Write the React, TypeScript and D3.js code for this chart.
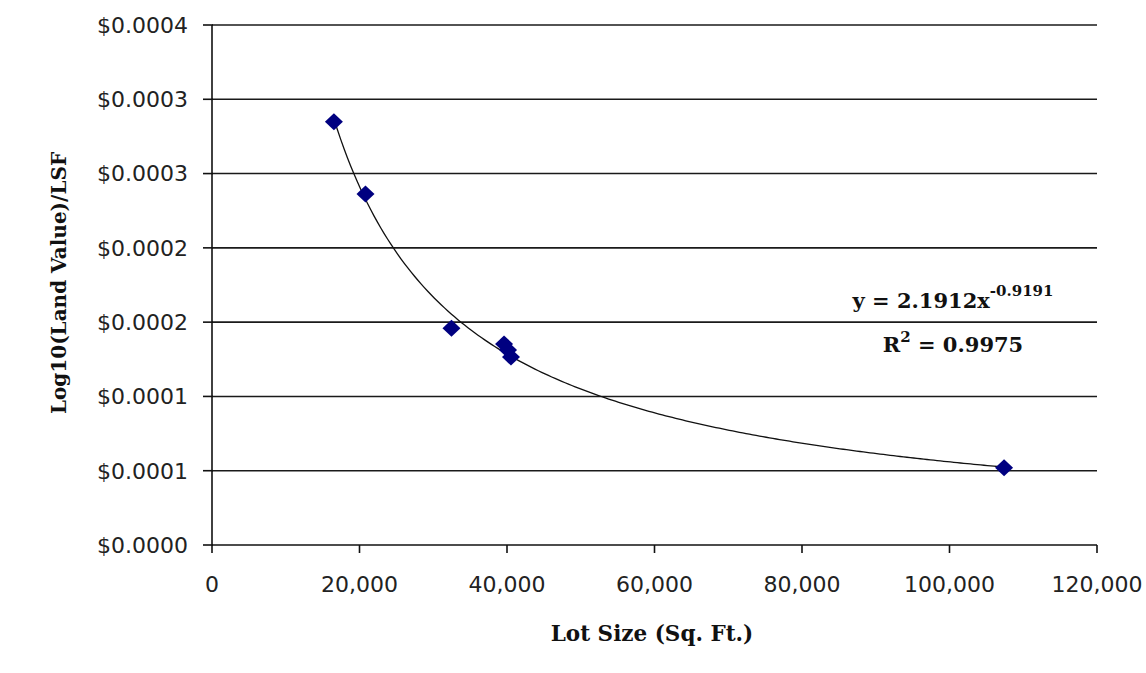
import React from "react";
import * as d3 from "d3";

const lotSizes = [16530, 20810, 32470, 39600, 40140, 40540, 107400];
const values = [0.0002849, 0.0002363, 0.0001459, 0.0001353, 0.0001313, 0.0001265, 0.000052];
const xTickValues = [0, 20000, 40000, 60000, 80000, 100000, 120000];
const yTickValues = [0, 0.00005, 0.0001, 0.00015, 0.0002, 0.00025, 0.0003, 0.00035];
const yTickLabels = ["$0.0000", "$0.0001", "$0.0001", "$0.0002", "$0.0002", "$0.0003", "$0.0003", "$0.0004"];
const xTitle = "Lot Size (Sq. Ft.)";
const yTitle = "Log10(Land Value)/LSF";
const eqCoef = "2.1912";
const eqExp = "-0.9191";
const rSquared = "0.9975";

const W = 1146;
const H = 673;

export default function App() {
  const x = d3.scaleLinear().domain([0, 120000]).range([212, 1097]);
  const y = d3.scaleLinear().domain([0, 0.00035]).range([545, 25]);

  // power-law fit in log-log space
  const lx = lotSizes.map(Math.log);
  const ly = values.map(Math.log);
  const mx = d3.mean(lx)!;
  const my = d3.mean(ly)!;
  const b = d3.sum(lx.map((v, i) => (v - mx) * (ly[i] - my))) / d3.sum(lx.map((v) => (v - mx) ** 2));
  const a = Math.exp(my - b * mx);
  const xmin = d3.min(lotSizes)!;
  const xmax = d3.max(lotSizes)!;
  const curvePts = d3.range(0, 201).map((i) => {
    const xv = xmin + ((xmax - xmin) * i) / 200;
    return [xv, a * Math.pow(xv, b)] as [number, number];
  });
  const line = d3
    .line<[number, number]>()
    .x((d) => x(d[0]))
    .y((d) => y(d[1]));

  const diamond = (cx: number, cy: number) =>
    `M${cx},${cy - 8.5}L${cx + 9},${cy}L${cx},${cy + 8.5}L${cx - 9},${cy}Z`;

  const serif = "'DejaVu Serif', serif";
  const sans = "'DejaVu Sans', sans-serif";

  return (
    <svg
      width={W}
      height={H}
      style={{ position: "absolute", left: 0, top: 0, background: "#fff" }}
    >
      <rect x={0} y={0} width={W} height={H} fill="#fff" />
      {/* gridlines */}
      {yTickValues.slice(1).map((v) => (
        <line key={"g" + v} x1={212} x2={1097} y1={y(v)} y2={y(v)} stroke="#1a1a1a" strokeWidth={1.6} />
      ))}
      {/* axes */}
      <line x1={212} x2={212} y1={25} y2={545} stroke="#111" strokeWidth={1.6} />
      <line x1={212} x2={1097} y1={545} y2={545} stroke="#111" strokeWidth={1.6} />
      {yTickValues.map((v, i) => (
        <g key={"yt" + i}>
          <line x1={203} x2={213} y1={y(v)} y2={y(v)} stroke="#111" strokeWidth={1.6} />
          <text
            x={188}
            y={y(v)}
            dy="0.36em"
            textAnchor="end"
            fontFamily={sans}
            fontSize={22}
            fill="#222"
          >
            {yTickLabels[i]}
          </text>
        </g>
      ))}
      {xTickValues.map((v) => (
        <g key={"xt" + v}>
          <line x1={x(v)} x2={x(v)} y1={545} y2={553} stroke="#111" strokeWidth={1.6} />
          <text
            x={x(v)}
            y={592}
            textAnchor="middle"
            fontFamily={sans}
            fontSize={22}
            fill="#222"
          >
            {d3.format(",")(v)}
          </text>
        </g>
      ))}
      {/* trendline */}
      <path d={line(curvePts) || ""} fill="none" stroke="#111" strokeWidth={1.3} />
      {/* points */}
      {lotSizes.map((lv, i) => (
        <path key={"p" + i} d={diamond(x(lv), y(values[i]))} fill="#000080" />
      ))}
      {/* equation */}
      <text x={953} y={308} textAnchor="middle" fontFamily={serif} fontWeight="bold" fontSize={21} fill="#111">
        <tspan>{`y = ${eqCoef}x`}</tspan>
        <tspan fontSize={15} dy={-12}>{eqExp}</tspan>
      </text>
      <text x={953} y={352} textAnchor="middle" fontFamily={serif} fontWeight="bold" fontSize={21} fill="#111">
        <tspan>R</tspan>
        <tspan fontSize={15} dy={-10}>2</tspan>
        <tspan dy={10}>{` = ${rSquared}`}</tspan>
      </text>
      {/* axis titles */}
      <text x={652} y={641} textAnchor="middle" fontFamily={serif} fontWeight="bold" fontSize={21.5} fill="#111">
        {xTitle}
      </text>
      <text
        transform={`translate(66,283) rotate(-90)`}
        textAnchor="middle"
        fontFamily={serif}
        fontWeight="bold"
        fontSize={20}
        fill="#111"
      >
        {yTitle}
      </text>
    </svg>
  );
}
